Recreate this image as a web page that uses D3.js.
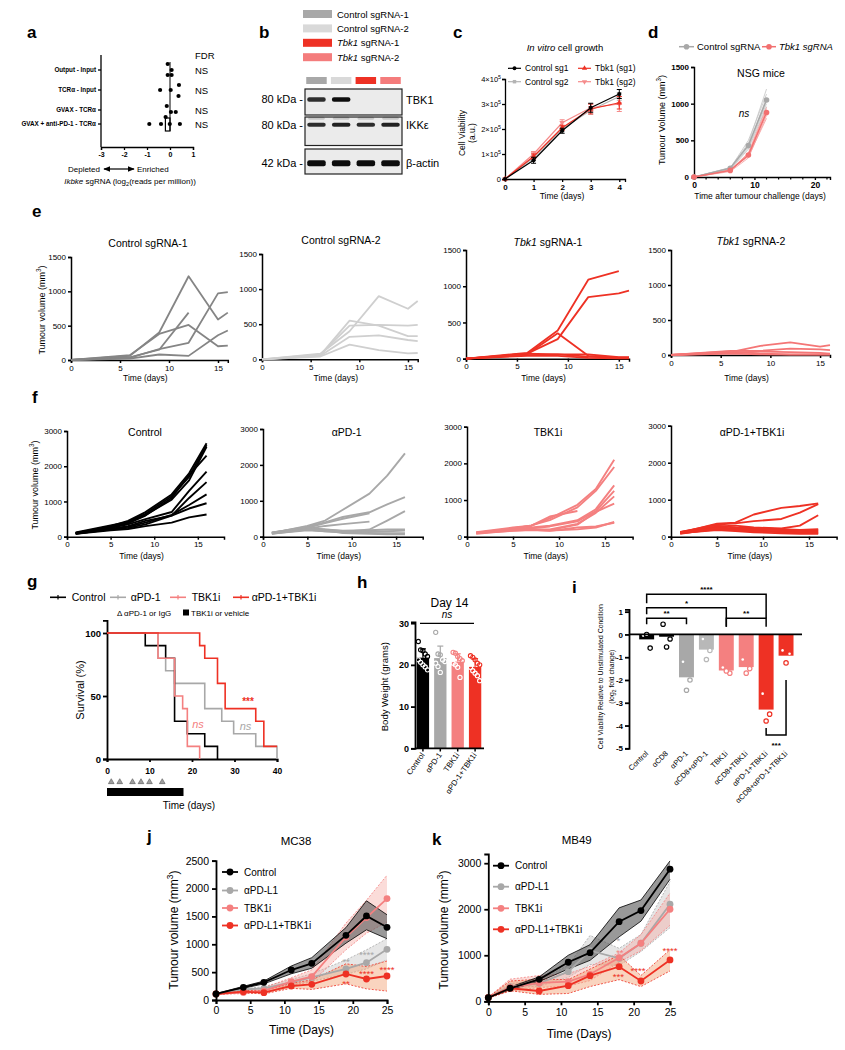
<!DOCTYPE html>
<html><head><meta charset="utf-8">
<script src="https://cdn.jsdelivr.net/npm/d3@7/dist/d3.min.js"></script>
<style>html,body{margin:0;padding:0;background:#fff}svg{display:block}</style>
</head><body>
<svg id="fig" width="845" height="1050" xmlns="http://www.w3.org/2000/svg"></svg>
<script>
// ======================= DATA =======================
// a
const aRows = ["Output - Input","TCRα - Input","GVAX - TCRα","GVAX + anti-PD-1 - TCRα"];
const aValues = [[-0.1,0.07,-0.1,0.07],[0.39,-0.43,0.03,0.37],[-0.14,0.25,0.04,-0.19],[-0.9,-0.39,-0.01,0.43]];
const aFDR = ["NS","NS","NS","NS"];
const aBox = [-0.2, 0.0];
const aTicks = [-3,-2,-1,0,1];
// b
const bSamples = ["Control sgRNA-1","Control sgRNA-2","Tbk1 sgRNA-1","Tbk1 sgRNA-2"];
const bProteins = ["TBK1","IKKε","β-actin"];
const bSizes = ["80 kDa","80 kDa","42 kDa"];
const bSignal = [[0.85,1,0,0],[0.85,0.9,0.85,0.9],[1,1,1,1]];
// c (cell viability, x10^5 a.u.)
const cDays = [0,1,2,3,4];
const cNames = ["Control sg1","Control sg2","Tbk1 (sg1)","Tbk1 (sg2)"];
const cCtrl1 = [0,0.75,1.93,2.85,3.4], cCtrl1Err = [0,0.12,0.1,0.18,0.18];
const cCtrl2 = [0,0.85,2.0,2.75,3.3], cCtrl2Err = [0,0.1,0.1,0.15,0.15];
const cTbk1 = [0,0.9,2.05,2.8,3.05], cTbk1Err = [0,0.1,0.1,0.2,0.25];
const cTbk2 = [0,1.0,2.25,2.85,3.0], cTbk2Err = [0,0.1,0.12,0.15,0.3];
const cYTicks = [0,1,2,3,4];
// d
const dDays = [0,6,9,12];
const dCtrlMean = [0,120,430,1050];
const dTbkMean = [0,90,300,880];
const dCtrlMice = [[0,130,460,1200],[0,120,500,1130],[0,110,400,1000],[0,100,380,960],[0,125,440,1080]];
const dTbkMice = [[0,95,330,950],[0,85,300,900],[0,100,280,800],[0,75,260,840],[0,90,320,920]];
// e
const eDays = [0,6,9,12,15,16];
const eTitles = ["Control sgRNA-1","Control sgRNA-2","Tbk1 sgRNA-1","Tbk1 sgRNA-2"];
const eCtrl1 = [[0,60,400,1220,590,690],[0,40,150,690,null,null],[0,70,380,510,200,210],[0,30,160,250,970,990],[0,20,80,60,360,430]];
const eCtrl2 = [[0,80,400,900,720,830],[0,60,550,480,330,330],[0,70,480,490,480,490],[0,50,320,340,275,260],[0,40,210,130,85,90]];
const eTbk1 = [[0,80,390,1090,1210,null],[0,70,270,850,900,940],[0,60,350,40,15,15],[0,70,60,60,20,20],[0,50,60,30,10,10],[0,40,40,10,5,5]];
const eTbk2 = [[0,40,130,180,120,140],[0,60,60,90,80,70],[0,30,50,40,30,20],[0,50,20,10,10,10],[0,20,10,5,5,5]];
const eYTicks = [0,500,1000,1500];
const eXTicks = [0,5,10,15];
// f
const fDays = [1,5,7,9,12,14,16];
const fTitles = ["Control","αPD-1","TBK1i","αPD-1+TBK1i"];
const fCtrl = [[100,300,450,700,1200,1800,2650],[120,320,420,650,1150,1700,2600],[110,280,400,620,1050,1600,2550],[100,270,380,600,1100,1750,2300],[90,250,350,500,700,1300,1850],[80,220,300,450,600,1100,1550],[100,230,280,400,620,900,1200],[90,200,250,350,600,800,950],[80,180,220,300,400,550,630]];
const fPD1 = [[100,300,450,750,1200,1700,2320],[110,280,400,550,680,900,1100],[120,250,380,500,650,null,null],[90,220,300,350,420,null,null],[100,200,150,130,200,450,710],[110,250,200,170,180,200,200],[100,220,200,150,130,150,170],[90,180,150,120,100,100,100],[80,200,180,100,80,70,70]];
const fTbk = [[100,230,300,500,870,1300,2100],[110,220,310,450,800,1250,1900],[120,250,300,550,700,null,null],[100,200,250,300,450,750,1400],[90,200,230,280,420,700,1250],[110,180,200,200,350,650,1100],[100,180,200,180,330,680,900],[80,170,190,170,200,250,400],[100,160,180,160,250,280,380]];
const fCombo = [[100,350,380,600,780,830,900],[120,330,360,420,480,650,880],[110,280,300,250,220,300,580],[130,300,250,230,200,180,200],[100,250,220,200,180,160,180],[90,200,180,150,150,120,150],[80,230,200,180,120,100,100],[100,180,150,120,90,80,80],[120,220,170,150,130,120,120]];
const fYTicks = [0,1000,2000,3000];
const fXTicks = [0,5,10,15];
// g (Kaplan-Meier)
const gNames = ["Control","αPD-1","TBK1i","αPD-1+TBK1i"];
const gCtrlT = [0,9,13.8,15.9,18.9,23,26], gCtrlS = [100,90,80,30,20,10,0];
const gPD1T = [0,12,13.8,15.9,23,27,29.8,35,40], gPD1S = [100,80,70,60,40,30,20,10,0];
const gTbkT = [0,12,15.9,17.8,18.9,21.8], gTbkS = [100,80,50,40,10,0];
const gComboT = [0,21.8,23,26,27.8,35,36.9,40], gComboS = [100,90,80,60,40,30,10,10];
const gDoses = [1,3,6,8,10,13];
const gTbkDosing = [0,18];
const gXTicks = [0,10,20,30,40], gYTicks = [0,50,100];
// h (body weight, grams)
const hGroups = ["Control","αPD-1","TBK1i","αPD-1+TBK1i"];
const hCtrl = [25.6,23.6,23.4,22.6,22,21.2,20.6,20,19.5,18.8];
const hPD1 = [27.8,22.6,22.4,21.2,20.8,20.4,19.6,18.2];
const hTbk = [23,22.8,22,21.5,21,20.4,20,19.4,17];
const hCombo = [22.2,21.8,21.2,20.4,20,19.4,18.6,18,17.4,16.2];
const hYTicks = [0,10,20,30];
// i (log2 fold change)
const iGroups = ["Control","αCD8","αPD-1","αCD8+αPD-1","TBK1i","αCD8+TBK1i","αPD-1+TBK1i","αCD8+αPD-1+TBK1i"];
const iPoints = [[-0.05,-0.6,0.0],[0.45,-0.2,-0.55],[-1.2,-2.0,-2.45],[-0.2,-0.7,-1.1],[-1.45,-1.7,-1.6],[-1.1,-1.5,-1.7],[-2.6,-3.5,-3.8],[-0.7,-0.85,-1.25]];
const iTicks = [1,0,-1,-2,-3,-4,-5];
const iSig = [["Control","αPD-1+TBK1i","****"],["Control","TBK1i","*"],["Control","αPD-1","**"],["TBK1i","αPD-1+TBK1i","**"]];
const iSigBottom = ["αPD-1+TBK1i","αCD8+αPD-1+TBK1i","***"];
// j (MC38)
const jDays = [0,4,7,11,14,19,22,25];
const jNames = ["Control","αPD-L1","TBK1i","αPD-L1+TBK1i"];
const jCtrl = [108,227,317,538,658,1160,1508,1305], jCtrlLo = [100,210,290,470,570,1020,1260,1100], jCtrlHi = [115,245,340,610,760,1300,1780,1530];
const jPDL1 = [108,190,210,317,407,557,670,910], jPDL1Lo = [100,170,180,270,340,460,560,720], jPDL1Hi = [115,200,240,370,470,720,900,1100];
const jTbk = [110,135,165,330,420,1130,1480,1820], jTbkLo = [100,115,130,270,320,900,1200,1400], jTbkHi = [120,160,220,400,540,1380,1790,2240];
const jCombo = [108,150,131,251,281,467,377,431], jComboLo = [100,130,110,210,190,290,200,160], jComboHi = [115,170,170,300,360,650,600,700];
const jStarText = ["**","****","****","****","**"], jStarDay = [19,22,22,25,19], jStarVal = [718,849,508,569,317];
const jYTicks = [0,500,1000,1500,2000,2500];
// k (MB49)
const kDays = [0,3,7,11,14,18,21,25];
const kCtrl = [78,283,478,848,1057,1730,1970,2870], kCtrlLo = [70,255,430,700,890,1400,1740,2650], kCtrlHi = [90,310,530,1000,1230,2030,2200,3050];
const kPDL1 = [80,317,390,643,1100,935,1261,2109], kPDL1Lo = [70,290,330,520,800,780,1080,1600], kPDL1Hi = [90,380,460,780,1430,1150,1450,2600];
const kTbk = [80,300,400,426,587,948,1261,2000], kTbkLo = [70,220,300,330,450,850,1100,1650], kTbkHi = [90,480,560,600,760,1050,1450,2350];
const kCombo = [80,283,224,340,557,752,441,898], kComboLo = [70,230,150,170,320,470,320,660], kComboHi = [90,440,480,470,700,1000,560,1120];
const kStarText = ["*","**","****","***","****"], kStarDay = [17.9,18.1,20.6,17.9,25], kStarVal = [1360,1100,702,565,1137];
const kYTicks = [0,1000,2000,3000];
const jkXTicks = [0,5,10,15,20,25];

// ======================= HELPERS =======================
const svg = d3.select('#fig');
svg.append('rect').attr('width',845).attr('height',1050).attr('fill','#fff');
const F = '"Liberation Sans", Arial, Helvetica, sans-serif';
const BLACK='#000', DGRAY='#8a8a8a', GRAY='#a8a8a8', LGRAY='#d0d0d0', RED='#ee3124', PINK='#f48080';

function txt(x,y,s,o={}){
  const t=svg.append('text').attr('x',x).attr('y',y).text(s)
    .attr('font-size',o.fs||10).attr('font-family',F)
    .attr('text-anchor',o.anchor||'start').attr('fill',o.fill||'#000');
  if(o.fw) t.attr('font-weight',o.fw);
  if(o.it) t.attr('font-style','italic');
  if(o.rot!=null) t.attr('transform',`rotate(${o.rot},${x},${y})`);
  return t;
}
function rich(x,y,parts,o={}){
  const t=txt(x,y,'',o); const fs=o.fs||10; let shift=0;
  parts.forEach(p=>{
    const s=typeof p==='string'?p:p[0]; const f=typeof p==='string'?'':p[1];
    const ts=t.append('tspan').text(s);
    if(f.includes('i')) ts.attr('font-style','italic');
    let target=0;
    if(f.includes('^')){target=-fs*0.4; ts.attr('font-size',fs*0.7);}
    if(f.includes('_')){target=fs*0.25; ts.attr('font-size',fs*0.7);}
    if(target-shift!==0) ts.attr('dy',target-shift);
    shift=target;
  });
  return t;
}
function sty(g,o){
  g.select('.domain').attr('stroke','#000').attr('stroke-width',o.sw??1.2);
  g.selectAll('.tick line').attr('stroke','#000').attr('stroke-width',o.sw??1.2);
  g.selectAll('.tick text').attr('fill','#000').attr('font-family',F).attr('font-size',o.fs??8).attr('font-weight',o.fw??'normal');
}
function axL(x,scale,ticks,o={}){
  const a=d3.axisLeft(scale).tickValues(ticks).tickSizeOuter(0).tickSize(o.ts??3).tickPadding(o.tp??2).tickFormat(o.fmt||(d=>String(d)));
  const g=svg.append('g').attr('transform',`translate(${x},0)`).call(a); sty(g,o); return g;
}
function axB(y,scale,ticks,o={}){
  const a=d3.axisBottom(scale).tickValues(ticks).tickSizeOuter(0).tickSize(o.ts??3).tickPadding(o.tp??2).tickFormat(o.fmt||(d=>String(d)));
  const g=svg.append('g').attr('transform',`translate(0,${y})`).call(a); sty(g,o); return g;
}
function ln(x1,y1,x2,y2,c='#000',w=1.2,extra){
  const l=svg.append('line').attr('x1',x1).attr('y1',y1).attr('x2',x2).attr('y2',y2).attr('stroke',c).attr('stroke-width',w);
  if(extra) extra(l); return l;
}
function mark(type,x,y,color,size){
  const sym={circle:d3.symbolCircle,square:d3.symbolSquare,tri:d3.symbolTriangle,itri:d3.symbolTriangle}[type];
  return svg.append('path').attr('d',d3.symbol(sym,size)()).attr('fill',color)
    .attr('transform',`translate(${x},${y})`+(type==='itri'?' rotate(180)':''));
}
const defs=svg.append('defs');
defs.append('filter').attr('id','blur').append('feGaussianBlur').attr('stdDeviation',0.7);
defs.append('marker').attr('id','arr').attr('viewBox','0 0 10 10').attr('refX',9).attr('refY',5)
  .attr('markerWidth',6).attr('markerHeight',6).attr('orient','auto-start-reverse')
  .append('path').attr('d','M0,1 L10,5 L0,9 z').attr('fill','#000');

// panel letters
[['a',27,38],['b',259,38],['c',453,38],['d',648,38],['e',32,217],['f',32,403],['g',27,587],['h',357,588],['i',572,593],['j',147,842],['k',432,845]]
  .forEach(([l,x,y])=>txt(x,y,l,{fs:17,fw:'bold'}));

// ======================= PANEL A =======================
(function(){
  const x=d3.scaleLinear([-3,1],[101,193]);
  const rowY=d3.scaleOrdinal(aRows,[70,90,110,124]);
  const jit=[[-6,0,5,5],[-5,0,0,6],[-4,2,2,7],[0,0,0,0]];
  ln(101,55,101,147,'#000',1.3);
  ln(x(0),62,x(0),131,'#000',1);
  svg.append('rect').attr('x',x(aBox[0])).attr('y',118).attr('width',x(aBox[1])-x(aBox[0])).attr('height',13)
    .attr('fill','none').attr('stroke','#000').attr('stroke-width',1.2);
  aRows.forEach((r,i)=>{
    const yy=rowY(r);
    ln(98,yy,101,yy,'#000',1.3);
    txt(96,yy+2.3,r,{fs:6.3,fw:'bold',anchor:'end'});
    aValues[i].forEach((v,j)=>svg.append('circle').attr('cx',x(v)).attr('cy',yy+jit[i][j]).attr('r',2.1).attr('fill','#000'));
    txt(195,yy+3.5,aFDR[i],{fs:9.5});
  });
  axB(147,x,aTicks,{fs:7,fw:'bold',sw:1.3});
  txt(195,59,'FDR',{fs:9.5});
  txt(100,172,'Depleted',{fs:8,anchor:'end'});
  ln(104,169,134,169,'#000',1.2,l=>l.attr('marker-start','url(#arr)').attr('marker-end','url(#arr)'));
  txt(137,172,'Enriched',{fs:8});
  rich(130,184,[['Ikbke','i'],' sgRNA (log',['2','_'],'(reads per million))'],{fs:8,anchor:'middle'});
})();

// ======================= PANEL B =======================
(function(){
  const cols=[GRAY,'#d9d9d9',RED,'#f47c7c'];
  bSamples.forEach((s,i)=>{
    const yy=14+i*14.4;
    svg.append('rect').attr('x',303).attr('y',yy-4).attr('width',29).attr('height',8).attr('fill',cols[i]);
    const parts=s.startsWith('Tbk1')?[['Tbk1','i'],s.slice(4)]:[s];
    rich(337,yy+3.5,parts,{fs:9.5});
  });
  const lane=d3.scaleBand(bSamples,[305,402]).paddingInner(0.17).paddingOuter(0.05);
  bSamples.forEach((s,i)=>svg.append('rect').attr('x',lane(s)).attr('y',77).attr('width',lane.bandwidth()).attr('height',7).attr('fill',cols[i]));
  const rowsY=[[89,115],[117,145.5],[149,174]];
  const bandY=[99.5,124.7,163.3], bandH=[4.5,4,6];
  bProteins.forEach((p,r)=>{
    svg.append('rect').attr('x',305).attr('y',rowsY[r][0]).attr('width',97).attr('height',rowsY[r][1]-rowsY[r][0])
      .attr('fill','#ebebeb').attr('stroke','#222').attr('stroke-width',1.2);
    bSamples.forEach((s,i)=>{
      const v=bSignal[r][i]; if(v<=0) return;
      if(r===1) svg.append('rect').attr('x',lane(s)+2).attr('y',bandY[r]-8).attr('width',lane.bandwidth()-4).attr('height',3).attr('rx',1.5).attr('fill','#000').attr('opacity',0.15).attr('filter','url(#blur)');
      svg.append('rect').attr('x',lane(s)+1).attr('y',bandY[r]-bandH[r]/2).attr('width',lane.bandwidth()-2).attr('height',bandH[r])
        .attr('rx',2).attr('fill','#111').attr('opacity',v).attr('filter','url(#blur)');
    });
    txt(303,bandY[r]+3.8,bSizes[r]+' -',{fs:11,anchor:'end'});
    txt(406,bandY[r]+4,p,{fs:11});
  });
})();

// ======================= PANEL C =======================
(function(){
  const x=d3.scaleLinear([0,4.2],[505,625]);
  const y=d3.scaleLinear([0,4],[179,79]);
  axL(505,y,cYTicks,{fmt:()=>'',sw:1.3});
  cYTicks.forEach(t=>{
    if(t===0) txt(501,y(t)+2.7,'0',{fs:7.5,anchor:'end'});
    else rich(501,y(t)+2.7,[t+'×10',['5','^']],{fs:7.5,anchor:'end'});
  });
  axB(179,x,cDays,{fs:8,sw:1.3,fw:'bold'});
  const ser=[{v:cCtrl2,e:cCtrl2Err,c:'#b4b4b4',m:'square'},{v:cTbk2,e:cTbk2Err,c:'#f58b8b',m:'itri'},{v:cTbk1,e:cTbk1Err,c:RED,m:'tri'},{v:cCtrl1,e:cCtrl1Err,c:'#000',m:'circle'}];
  const line=d3.line().x((d,i)=>x(cDays[i])).y(d=>y(d));
  ser.forEach(s=>{
    svg.append('path').attr('d',line(s.v)).attr('fill','none').attr('stroke',s.c).attr('stroke-width',1.2);
    s.v.forEach((v,i)=>{
      if(s.e[i]>0){
        ln(x(cDays[i]),y(v-s.e[i]),x(cDays[i]),y(v+s.e[i]),s.c,1);
        ln(x(cDays[i])-2.5,y(v-s.e[i]),x(cDays[i])+2.5,y(v-s.e[i]),s.c,1);
        ln(x(cDays[i])-2.5,y(v+s.e[i]),x(cDays[i])+2.5,y(v+s.e[i]),s.c,1);
      }
      mark(s.m,x(cDays[i]),y(v),s.c,14);
    });
  });
  const lx=[508,578], lyy=[68.3,81.7];
  const order=[{c:'#000',m:'circle'},{c:'#b4b4b4',m:'square'},{c:RED,m:'tri'},{c:'#f58b8b',m:'itri'}];
  cNames.forEach((n,i)=>{
    const col=i<2?0:1, row=i%2; const xx=lx[col], yy=lyy[row];
    ln(xx,yy,xx+13,yy,order[i].c,1.2); mark(order[i].m,xx+6.5,yy,order[i].c,12);
    txt(xx+17,yy+3,n,{fs:8.5});
  });
  rich(565,51,[['In vitro','i'],' cell growth'],{fs:9.5,anchor:'middle'});
  txt(465,133,'Cell Viability',{fs:8.5,anchor:'middle',rot:-90});
  txt(475,133,'(a.u.)',{fs:8.5,anchor:'middle',rot:-90});
  txt(562,199,'Time (days)',{fs:8.5,anchor:'middle'});
})();

// ======================= PANEL D =======================
(function(){
  const x=d3.scaleLinear([0,22.5],[694,830]);
  const y=d3.scaleLinear([0,1500],[177,67]);
  axL(694,y,[0,500,1000,1500],{fs:8,fw:'bold',sw:1.4});
  axB(177,x,[0,10,20],{fs:8.5,fw:'bold',sw:1.4});
  d3.range(2,23,2).filter(v=>v%10!==0).forEach(v=>ln(x(v),177,x(v),179.5,'#000',1.2));
  const line=d3.line().x((d,i)=>x(dDays[i])).y(d=>y(d));
  dCtrlMice.forEach(m=>svg.append('path').attr('d',line(m)).attr('fill','none').attr('stroke','#c4c4c4').attr('stroke-width',0.8));
  dTbkMice.forEach(m=>svg.append('path').attr('d',line(m)).attr('fill','none').attr('stroke','#f59a9a').attr('stroke-width',0.8));
  [[dCtrlMean,'#a8a8a8'],[dTbkMean,'#f27070']].forEach(([m,c])=>{
    svg.append('path').attr('d',line(m)).attr('fill','none').attr('stroke',c).attr('stroke-width',1.5);
    m.forEach((v,i)=>svg.append('circle').attr('cx',x(dDays[i])).attr('cy',y(v)).attr('r',2.8).attr('fill',c));
  });
  ln(679,46.7,694,46.7,'#a8a8a8',1.5); svg.append('circle').attr('cx',686.5).attr('cy',46.7).attr('r',2.8).attr('fill','#a8a8a8');
  txt(697,50,'Control sgRNA',{fs:9.5});
  ln(762,46.7,776,46.7,'#f27070',1.5); svg.append('circle').attr('cx',769).attr('cy',46.7).attr('r',2.8).attr('fill','#f27070');
  txt(779,50,'Tbk1 sgRNA',{fs:9.5,it:true});
  txt(761,77,'NSG mice',{fs:10.5,anchor:'middle'});
  txt(744,117,'ns',{fs:10,it:true,anchor:'middle'});
  rich(665,120,['Tumour Volume (mm',['3','^'],')'],{fs:9,anchor:'middle',rot:-90});
  txt(760,199,'Time after tumour challenge (days)',{fs:8.5,anchor:'middle'});
})();

// ======================= PANEL E & F =======================
function spaghetti(o){
  const x=d3.scaleLinear(o.xdom,[o.x0,o.x1]);
  const y=d3.scaleLinear([0,o.ymax],[o.yBot,o.yTop]);
  axL(o.x0,y,o.yticks,{fs:8,sw:1.5});
  axB(o.yBot,x,o.xticks,{fs:8,sw:1.5});
  const line=d3.line().defined(d=>d[1]!=null).x(d=>x(d[0])).y(d=>y(d[1]));
  o.data.forEach(m=>svg.append('path').attr('d',line(o.days.map((d,i)=>[d,m[i]])))
    .attr('fill','none').attr('stroke',o.color).attr('stroke-width',o.sw).attr('stroke-linejoin','round'));
  const t=o.title; const parts=t.startsWith('Tbk1')?[['Tbk1','i'],t.slice(4)]:[t];
  rich(o.tx,o.ty,parts,{fs:10.5,anchor:'middle'});
  txt((o.x0+o.x1)/2-4,o.xly,'Time (days)',{fs:8.5,anchor:'middle'});
}
const eLayout=[{x0:71,x1:227.8,yTop:257,yBot:360,tx:148,ty:247},{x0:262,x1:417.7,yTop:254,yBot:359.3,tx:341,ty:244},
  {x0:466,x1:629,yTop:250,yBot:358.7,tx:548,ty:245.5},{x0:671,x1:830,yTop:250,yBot:355,tx:751,ty:245}];
const eData=[eCtrl1,eCtrl2,eTbk1,eTbk2], eCols=['#858585','#cfcfcf',RED,'#f47676'];
eLayout.forEach((L,i)=>spaghetti(Object.assign({},L,{xdom:[0,16],ymax:1500,yticks:eYTicks,xticks:eXTicks,days:eDays,data:eData[i],color:eCols[i],sw:1.8,title:eTitles[i],xly:381})));
rich(45,310,['Tumour volume (mm',['3','^'],')'],{fs:9,anchor:'middle',rot:-90});

const fLayout=[{x0:67,x1:224,yTop:431,tx:145},{x0:263,x1:422.7,yTop:429,tx:346.7},{x0:467,x1:632.6,yTop:426.7,tx:548},{x0:671,x1:836.6,yTop:425.7,tx:752}];
const fData=[fCtrl,fPD1,fTbk,fCombo], fCols=['#000','#a8a8a8','#f48080',RED];
fLayout.forEach((L,i)=>spaghetti(Object.assign({},L,{yBot:536.7,ty:435.5,xdom:[0,18],ymax:3000,yticks:fYTicks,xticks:fXTicks,days:fDays,data:fData[i],color:fCols[i],sw:1.9,title:fTitles[i],xly:559})));
rich(38,485,['Tumour volume (mm',['3','^'],')'],{fs:9,anchor:'middle',rot:-90});

// ======================= PANEL G =======================
(function(){
  const x=d3.scaleLinear([0,40],[107,277]);
  const y=d3.scaleLinear([0,110],[759,620.4]);
  axL(107,y,gYTicks,{fs:9.5,fw:'bold',sw:1.8,ts:4});
  axB(759,x,gXTicks,{fs:8.5,fw:'bold',sw:1.8,ts:3,tp:6});
  const step=d3.line().curve(d3.curveStepAfter).x(d=>x(d[0])).y(d=>y(d[1]));
  const ser=[[gPD1T,gPD1S,'#a8a8a8'],[gCtrlT,gCtrlS,'#000'],[gTbkT,gTbkS,'#f48080'],[gComboT,gComboS,RED]];
  ser.forEach(([t,s,c])=>svg.append('path').attr('d',step(t.map((v,i)=>[v,s[i]]))).attr('fill','none').attr('stroke',c).attr('stroke-width',1.6));
  txt(248,705,'***',{fs:10,fw:'bold',anchor:'middle',fill:RED});
  txt(198,728,'ns',{fs:11,it:true,anchor:'middle',fill:'#f48080'});
  txt(245.5,730,'ns',{fs:11,it:true,anchor:'middle',fill:'#a8a8a8'});
  gDoses.forEach(d=>mark('tri',x(d),782,'#a0a0a0',14).attr('stroke','#555').attr('stroke-width',0.6));
  svg.append('rect').attr('x',x(gTbkDosing[0])).attr('y',788).attr('width',x(gTbkDosing[1])-x(gTbkDosing[0])).attr('height',8).attr('fill','#000');
  txt(189,809,'Time (days)',{fs:10,anchor:'middle'});
  txt(84,690,'Survival (%)',{fs:11,anchor:'middle',rot:-90});
  const lcols=['#000','#a8a8a8','#f48080',RED], lx=[50,110,170,233], tx=[71.7,130.7,191.7,251.7];
  gNames.forEach((n,i)=>{
    ln(lx[i],597.3,lx[i]+16,597.3,lcols[i],1.6); ln(lx[i]+8,595,lx[i]+8,599.6,lcols[i],1.2);
    txt(tx[i],601,n,{fs:10.5});
  });
  txt(117,616,'Δ',{fs:8});
  txt(124,616,'αPD-1 or IgG',{fs:8});
  svg.append('rect').attr('x',183).attr('y',609.5).attr('width',6).attr('height',6).attr('fill','#000');
  txt(191,616,'TBK1i or vehicle',{fs:8});
})();

// ======================= PANEL H =======================
(function(){
  const x=d3.scaleBand(hGroups,[415,483]).paddingInner(0.29).paddingOuter(0.1);
  const y=d3.scaleLinear([0,30.3],[748.3,621.9]);
  const data=[hCtrl,hPD1,hTbk,hCombo], cols=['#000','#a8a8a8','#f48080',RED];
  hGroups.forEach((g,i)=>{
    const m=d3.mean(data[i]), sd=d3.deviation(data[i]);
    const cx=x(g)+x.bandwidth()/2;
    svg.append('rect').attr('x',x(g)).attr('y',y(m)).attr('width',x.bandwidth()).attr('height',y(0)-y(m)).attr('fill',cols[i]);
    ln(cx,y(m),cx,y(m+sd),cols[i],1.2); ln(cx-3,y(m+sd),cx+3,y(m+sd),cols[i],1.2);
    data[i].forEach((v,j)=>{
      const off=((j%5)-2)*2.3;
      svg.append('circle').attr('cx',cx+off).attr('cy',y(v)).attr('r',2.1).attr('fill','none')
        .attr('stroke',v<m?'#fff':cols[i]).attr('stroke-width',1.1);
    });
    txt(cx+2,755,g,{fs:7.8,anchor:'end',rot:-55});
  });
  axL(415,y,hYTicks,{fs:9,fw:'bold',sw:1.8,ts:4});
  ln(415,748.3,484,748.3,'#000',1.8);
  hGroups.forEach(g=>ln(x(g)+x.bandwidth()/2,748.3,x(g)+x.bandwidth()/2,751.5,'#000',1.5));
  ln(420,623.3,474,623.3,'#000',1.3);
  txt(447,618,'ns',{fs:10,it:true,anchor:'middle'});
  txt(449.5,607,'Day 14',{fs:12,anchor:'middle'});
  txt(388.5,686.7,'Body Weight (grams)',{fs:9.5,anchor:'middle',rot:-90});
})();

// ======================= PANEL I =======================
(function(){
  const x=d3.scaleBand(iGroups,[636.7,796]).paddingInner(0.25).paddingOuter(0.125);
  const y=d3.scaleLinear([-5,1.1],[748.3,609.4]);
  const cols=['#000','#000','#a8a8a8','#b8b8b8','#f48080','#f48080',RED,RED];
  const cx=g=>x(g)+x.bandwidth()/2;
  iGroups.forEach((g,i)=>{
    const m=d3.mean(iPoints[i]);
    svg.append('rect').attr('x',x(g)).attr('y',y(0)).attr('width',x.bandwidth()).attr('height',y(m)-y(0)).attr('fill',cols[i]);
    const offs=[-3.5,3.5,0];
    iPoints[i].forEach((v,j)=>{
      const inside=v>m && v<0;
      if(inside) svg.append('circle').attr('cx',cx(g)+offs[j]).attr('cy',y(v)).attr('r',1.3).attr('fill','#fff');
      else svg.append('circle').attr('cx',cx(g)+offs[j]).attr('cy',y(v)).attr('r',2.2).attr('fill','#fff').attr('stroke',cols[i]).attr('stroke-width',1.2);
    });
    txt(cx(g)+2,754,g,{fs:7.5,anchor:'end',rot:-45});
  });
  axL(629,y,iTicks,{fs:8,fw:'bold',sw:1.8,ts:4});
  ln(629,y(0),802,y(0),'#000',1.8);
  const sy=[[594.3,603.3,618.3],[607.7,614.3,626.7],[618.3,624.3,624.3],[618.3,626.7,626.7]];
  iSig.forEach(([a,b,t],k)=>{
    const [yt,yl,yr]=sy[k];
    svg.append('path').attr('d',`M${cx(a)},${yl}V${yt}H${cx(b)}V${yr}`).attr('fill','none').attr('stroke','#000').attr('stroke-width',1.5);
    txt((cx(a)+cx(b))/2,yt-2,t,{fs:8,fw:'bold',anchor:'middle'});
  });
  const [a,b,t]=iSigBottom;
  svg.append('path').attr('d',`M${cx(a)},728V735H${cx(b)}V680`).attr('fill','none').attr('stroke','#000').attr('stroke-width',1.5);
  txt((cx(a)+cx(b))/2,748,t,{fs:8,fw:'bold',anchor:'middle'});
  txt(603,676.7,'Cell Viability Relative to Unstimulated Condition',{fs:6.9,anchor:'middle',rot:-90});
  rich(614,676.7,['(log',['2','_'],' fold change)'],{fs:6.9,anchor:'middle',rot:-90});
})();

// ======================= PANELS J & K =======================
function growth(o){
  const x=d3.scaleLinear([0,25],[o.x0,o.x1]);
  const y=d3.scaleLinear([0,o.ymax],[o.y0,o.yTop]);
  const styles=[
    {c:'#000',fill:'#555',op:0.6,edge:'#000',dash:null},
    {c:'#a8a8a8',fill:'#c8c8c8',op:0.45,edge:'#a8a8a8',dash:'2,1.5'},
    {c:'#f48080',fill:'#f4a8a0',op:0.4,edge:'#f48080',dash:'2,1.5'},
    {c:RED,fill:'#f2a070',op:0.45,edge:RED,dash:'2,1.5'}];
  const order=[1,2,3,0];
  const area=d3.area().x((d,i)=>x(o.days[i])).y0(d=>y(d[0])).y1(d=>y(d[1]));
  const line=d3.line().x((d,i)=>x(o.days[i])).y(d=>y(d));
  order.forEach(k=>{
    const s=o.series[k], st=styles[k];
    svg.append('path').attr('d',area(s.lo.map((v,i)=>[v,s.hi[i]]))).attr('fill',st.fill).attr('opacity',st.op);
    [s.lo,s.hi].forEach(b=>{const p=svg.append('path').attr('d',line(b)).attr('fill','none').attr('stroke',st.edge).attr('stroke-width',0.8); if(st.dash)p.attr('stroke-dasharray',st.dash);});
  });
  order.forEach(k=>{
    const s=o.series[k], st=styles[k];
    svg.append('path').attr('d',line(s.m)).attr('fill','none').attr('stroke',st.c).attr('stroke-width',1.8);
    s.m.forEach((v,i)=>svg.append('circle').attr('cx',x(o.days[i])).attr('cy',y(v)).attr('r',3.4).attr('fill',st.c));
  });
  o.stars.forEach(s=>txt(x(s.d),y(s.v)+5,s.t,{fs:9.5,anchor:'middle',fill:s.c}));
  axL(o.x0,y,o.yticks,{fs:10.5,sw:1.8,ts:4,tp:3});
  axB(o.y0,x,jkXTicks,{fs:10.5,sw:1.8,ts:4,tp:3});
  jNames.forEach((n,i)=>{
    const yy=o.ly[i];
    ln(o.lx,yy,o.lx+16,yy,styles[i].c,1.8);
    svg.append('circle').attr('cx',o.lx+8).attr('cy',yy).attr('r',3.4).attr('fill',styles[i].c);
    txt(o.lx+22,yy+3.6,n,{fs:10});
  });
  txt(o.tx,o.ty,o.title,{fs:11.5,anchor:'middle'});
  txt((o.x0+o.x1)/2,o.xly,'Time (Days)',{fs:12,anchor:'middle'});
  rich(o.ylx,930,['Tumour volume (mm',['3','^'],')'],{fs:12,anchor:'middle',rot:-90});
}
const jStarCols=['#a8a8a8','#a8a8a8',RED,RED,RED], kStarCols=['#a8a8a8','#f48080',RED,RED,RED];
growth({x0:216,x1:387,y0:1000,yTop:860.7,ymax:2500,yticks:jYTicks,days:jDays,title:'MC38',tx:296,ty:845,xly:1034,ylx:178,lx:222,ly:[872,890.5,908,925.5],
  series:[{m:jCtrl,lo:jCtrlLo,hi:jCtrlHi},{m:jPDL1,lo:jPDL1Lo,hi:jPDL1Hi},{m:jTbk,lo:jTbkLo,hi:jTbkHi},{m:jCombo,lo:jComboLo,hi:jComboHi}],
  stars:jStarText.map((t,i)=>({t,d:jStarDay[i],v:jStarVal[i],c:jStarCols[i]}))});
growth({x0:488.3,x1:670,y0:1001.3,yTop:854,ymax:3200,yticks:kYTicks,days:kDays,title:'MB49',tx:576.7,ty:844,xly:1037.5,ylx:448,lx:493,ly:[865.7,886.7,908.3,929.3],
  series:[{m:kCtrl,lo:kCtrlLo,hi:kCtrlHi},{m:kPDL1,lo:kPDL1Lo,hi:kPDL1Hi},{m:kTbk,lo:kTbkLo,hi:kTbkHi},{m:kCombo,lo:kComboLo,hi:kComboHi}],
  stars:kStarText.map((t,i)=>({t,d:kStarDay[i],v:kStarVal[i],c:kStarCols[i]}))});
</script></body></html>
